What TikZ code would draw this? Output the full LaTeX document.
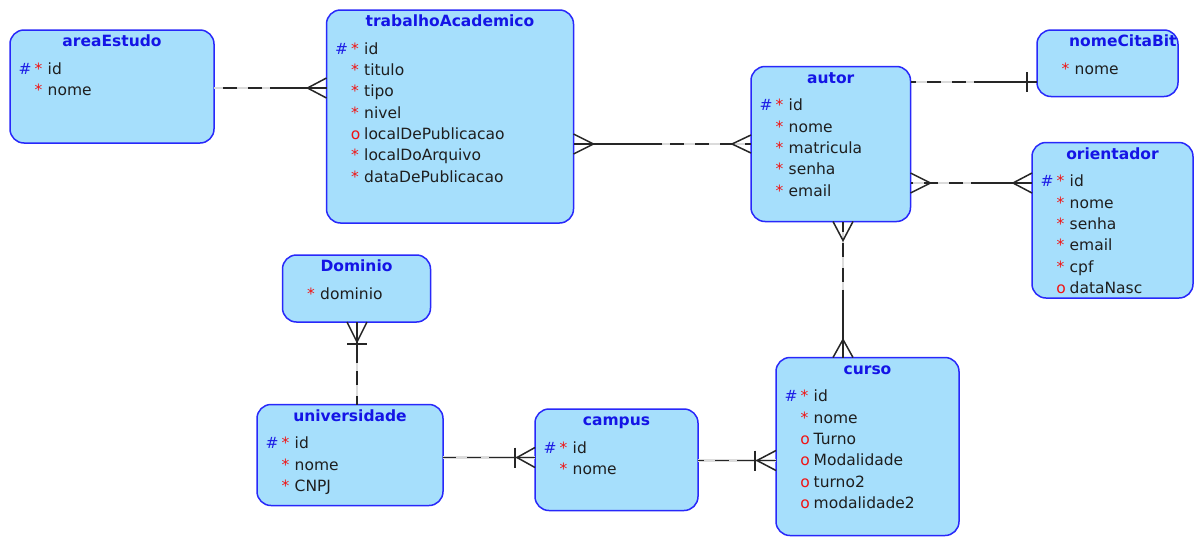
\documentclass[tikz,border=0pt]{standalone}
\usepackage{fontspec}
\setmainfont{DejaVu Sans}
\usetikzlibrary{calc}
\definecolor{entfill}{RGB}{166,223,252}
\definecolor{entdraw}{RGB}{40,40,250}
\definecolor{titleblue}{RGB}{20,20,230}
\definecolor{hashblue}{RGB}{30,30,230}
\definecolor{reqred}{RGB}{240,20,20}
\definecolor{txt}{RGB}{30,30,30}
\tikzset{
  entbox/.style={draw=entdraw, fill=entfill, line width=1.5pt, rounded corners=14pt, inner sep=0pt, outer sep=0pt, anchor=north west},
  enttitle/.style={font=\fontsize{15.5}{18}\selectfont\bfseries, text=titleblue, inner sep=0pt, anchor=base},
  attname/.style={font=\fontsize{15.5}{18}\selectfont, text=txt, inner sep=0pt, anchor=base west},
  mk/.style={font=\fontsize{15.5}{18}\selectfont, inner sep=0pt, anchor=base},
  greyl/.style={draw=black!14, line width=2.2pt},
  dashl/.style={draw=black!85, line width=1.5pt, dash pattern=on 14pt off 11pt, dash phase=17pt},
  solidl/.style={draw=black!85, line width=1.5pt}
}
\newcommand\entity[6]{%
  \node[entbox, minimum width=#4pt, minimum height=#5pt] (#1) at (#2,#3) {};
  \node[enttitle] (#1-t) at ($(#1.north)+(0,16.5)$) {#6};}
\newcommand\pkrow[3]{%
  \node[attname] (#1-r#2) at ($(#1.north west)+(37.5,{44.3+21.3*#2})$) {#3};
  \node[mk, text=hashblue] (#1-h#2) at ($(#1.north west)+(15,{44.3+21.3*#2})$) {\#};
  \node[mk, text=reqred] (#1-m#2) at ($(#1.north west)+(28.5,{44.3+21.3*#2})$) {*};}
\newcommand\rqrow[3]{%
  \node[attname] (#1-r#2) at ($(#1.north west)+(37.5,{44.3+21.3*#2})$) {#3};
  \node[mk, text=reqred] (#1-m#2) at ($(#1.north west)+(28.5,{44.3+21.3*#2})$) {*};}
\newcommand\oprow[3]{%
  \node[attname] (#1-r#2) at ($(#1.north west)+(37.5,{44.3+21.3*#2})$) {#3};
  \node[mk, text=reqred] (#1-m#2) at ($(#1.north west)+(29,{44.3+21.3*#2})$) {o};}
\begin{document}
\begin{tikzpicture}[x=1pt, y=-1pt]
\useasboundingbox[fill=white] (0,0) rectangle (1194,536);

% ---------- entities ----------
\entity{ae}{10}{30}{204}{113}{areaEstudo}
\pkrow{ae}{0}{id}
\rqrow{ae}{1}{nome}

\entity{ta}{326.5}{10}{247}{213}{trabalhoAcademico}
\pkrow{ta}{0}{id}
\rqrow{ta}{1}{titulo}
\rqrow{ta}{2}{tipo}
\rqrow{ta}{3}{nivel}
\oprow{ta}{4}{localDePublicacao}
\rqrow{ta}{5}{localDoArquivo}
\rqrow{ta}{6}{dataDePublicacao}

\entity{au}{751}{66.5}{159.5}{155}{autor}
\pkrow{au}{0}{id}
\rqrow{au}{1}{nome}
\rqrow{au}{2}{matricula}
\rqrow{au}{3}{senha}
\rqrow{au}{4}{email}

\node[entbox, minimum width=141pt, minimum height=66.5pt] (nc) at (1037,30) {};
\node[enttitle, anchor=base west] (nc-t) at (1069,46) {nomeCitaBit};
\rqrow{nc}{0}{nome}

\entity{ori}{1032}{142.5}{161}{155.5}{orientador}
\pkrow{ori}{0}{id}
\rqrow{ori}{1}{nome}
\rqrow{ori}{2}{senha}
\rqrow{ori}{3}{email}
\rqrow{ori}{4}{cpf}
\oprow{ori}{5}{dataNasc}

\entity{do}{282.5}{255}{148}{67}{Dominio}
\rqrow{do}{0}{dominio}

\entity{un}{257}{404.5}{186}{101}{universidade}
\pkrow{un}{0}{id}
\rqrow{un}{1}{nome}
\rqrow{un}{2}{CNPJ}

\entity{ca}{535}{409}{163}{101.5}{campus}
\pkrow{ca}{0}{id}
\rqrow{ca}{1}{nome}

\entity{cu}{776}{357.5}{183}{178}{curso}
\pkrow{cu}{0}{id}
\rqrow{cu}{1}{nome}
\oprow{cu}{2}{Turno}
\oprow{cu}{3}{Modalidade}
\oprow{cu}{4}{turno2}
\oprow{cu}{5}{modalidade2}

% ---------- relationships ----------
% areaEstudo -- trabalhoAcademico
\coordinate (c1a) at (ae.east |- 0,88);
\coordinate (c1b) at (ta.west |- 0,88);
\coordinate (c1m) at ($(c1a)!.5!(c1b)$);
\draw[greyl] (c1a) -- (c1b);
\draw[dashl] (c1m) -- (c1a);
\draw[solidl] (c1m) -- (c1b);
\draw[solidl] ($(c1b)+(0,-10)$) -- ($(c1b)+(-19,0)$) -- ($(c1b)+(0,10)$);

% trabalhoAcademico -- autor
\coordinate (c2a) at (ta.east |- 0,144);
\coordinate (c2b) at (au.west |- 0,144);
\coordinate (c2m) at ($(c2a)!.5!(c2b)$);
\draw[greyl] (c2a) -- (c2b);
\draw[solidl] (c2m) -- (c2a);
\draw[dashl] (c2m) -- (c2b);
\draw[solidl] ($(c2a)+(0,-10)$) -- ($(c2a)+(20,0)$) -- ($(c2a)+(0,10)$);
\draw[solidl] ($(c2b)+(0,-9)$) -- ($(c2b)+(-19,0)$) -- ($(c2b)+(0,9)$);

% autor -- nomeCitaBit
\coordinate (c3a) at (au.east |- 0,82);
\coordinate (c3b) at (nc.west |- 0,82);
\coordinate (c3m) at ($(c3a)!.5!(c3b)$);
\draw[greyl] (c3a) -- (c3b);
\draw[dashl] (c3m) -- (c3a);
\draw[solidl] (c3m) -- (c3b);
\draw[solidl] ($(c3b)+(-10,-10)$) -- ($(c3b)+(-10,10)$);

% autor -- orientador
\coordinate (c4a) at (au.east |- 0,183);
\coordinate (c4b) at (ori.west |- 0,183);
\coordinate (c4m) at ($(c4a)!.5!(c4b)$);
\draw[greyl] (c4a) -- (c4b);
\draw[dashl] (c4m) -- (c4a);
\draw[solidl] (c4m) -- (c4b);
\draw[solidl] ($(c4a)+(0,-10)$) -- ($(c4a)+(20,0)$) -- ($(c4a)+(0,10)$);
\draw[solidl] ($(c4b)+(0,-10)$) -- ($(c4b)+(-19,0)$) -- ($(c4b)+(0,10)$);

% autor -- curso
\coordinate (c5a) at (au.south -| 843,0);
\coordinate (c5b) at (cu.north -| 843,0);
\coordinate (c5m) at ($(c5a)!.5!(c5b)$);
\draw[greyl] (c5a) -- (c5b);
\draw[dashl] (c5m) -- (c5a);
\draw[solidl] (c5m) -- (c5b);
\draw[solidl] ($(c5a)+(-10,0)$) -- ($(c5a)+(0,19)$) -- ($(c5a)+(10,0)$);
\draw[solidl] ($(c5b)+(-10,0)$) -- ($(c5b)+(0,-18)$) -- ($(c5b)+(10,0)$);

% Dominio -- universidade
\coordinate (c6a) at (do.south -| 357,0);
\coordinate (c6b) at (un.north -| 357,0);
\coordinate (c6m) at ($(c6a)!.5!(c6b)$);
\draw[greyl] (c6a) -- (c6b);
\draw[solidl] (c6m) -- (c6a);
\draw[dashl] (c6m) -- (c6b);
\draw[solidl] ($(c6a)+(-10,0)$) -- ($(c6a)+(0,20)$) -- ($(c6a)+(10,0)$);
\draw[solidl] ($(c6a)+(-10,22)$) -- ($(c6a)+(10,22)$);

% universidade -- campus
\coordinate (c7a) at (un.east |- 0,457.5);
\coordinate (c7b) at (ca.west |- 0,457.5);
\coordinate (c7m) at ($(c7a)!.5!(c7b)$);
\draw[greyl] (c7a) -- (c7b);
\draw[dashl] (c7m) -- (c7a);
\draw[solidl] (c7m) -- (c7b);
\draw[solidl] ($(c7b)+(0,-10)$) -- ($(c7b)+(-18,0)$) -- ($(c7b)+(0,10)$);
\draw[solidl] ($(c7b)+(-20,-10)$) -- ($(c7b)+(-20,10)$);

% campus -- curso
\coordinate (c8a) at (ca.east |- 0,460.5);
\coordinate (c8b) at (cu.west |- 0,460.5);
\coordinate (c8m) at ($(c8a)!.5!(c8b)$);
\draw[greyl] (c8a) -- (c8b);
\draw[dashl] (c8m) -- (c8a);
\draw[solidl] (c8m) -- (c8b);
\draw[solidl] ($(c8b)+(0,-10)$) -- ($(c8b)+(-19,0)$) -- ($(c8b)+(0,10)$);
\draw[solidl] ($(c8b)+(-21,-10)$) -- ($(c8b)+(-21,10)$);
\end{tikzpicture}
\end{document}
